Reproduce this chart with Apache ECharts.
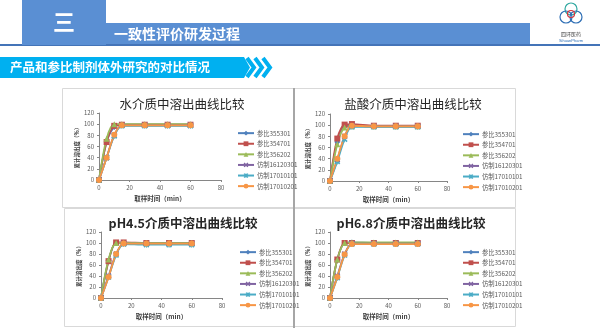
<!DOCTYPE html>
<html><head><meta charset="utf-8">
<script src="https://cdn.jsdelivr.net/npm/echarts@6/dist/echarts.min.js"></script>
<style>html,body{margin:0;padding:0;background:#fff}#c{width:600px;height:328px}</style>
</head><body><div id="c"></div>
<script>
var times = [0, 5, 10, 15, 30, 45, 60];
var seriesNames = ['参比355301', '参比354701', '参比356202', '仿制16120301', '仿制17010101', '仿制17010201'];
var chartTitles = ['水介质中溶出曲线比较', '盐酸介质中溶出曲线比较', 'pH4.5介质中溶出曲线比较', 'pH6.8介质中溶出曲线比较'];
var xTicks = [0, 20, 40, 60, 80];
var yTicks = [0, 20, 40, 60, 80, 100, 120];

// water
var water_355301 = [0, 68, 95, 99, 99, 99, 99];
var water_354701 = [0, 68, 97, 99, 99, 99, 99];
var water_356202 = [0, 74, 100, 100, 100, 100, 100];
var water_16120301 = [0, 40, 80, 98, 98, 98, 98];
var water_17010101 = [0, 40, 79, 97, 97, 97, 97];
var water_17010201 = [0, 40, 81, 98, 98, 98, 98];
// HCl
var hcl_355301 = [0, 70, 98, 99, 98, 98, 98];
var hcl_354701 = [0, 76, 101, 102, 99, 99, 99];
var hcl_356202 = [0, 66, 96, 98, 98, 98, 98];
var hcl_16120301 = [0, 38, 80, 99, 98, 98, 98];
var hcl_17010101 = [0, 35, 75, 97, 97, 97, 97];
var hcl_17010201 = [0, 40, 80, 99, 98, 98, 98];
// pH4.5
var ph45_355301 = [0, 68, 100, 100, 100, 100, 100];
var ph45_354701 = [0, 67, 101, 101, 100, 100, 100];
var ph45_356202 = [0, 70, 100, 100, 100, 100, 100];
var ph45_16120301 = [0, 40, 80, 99, 99, 99, 99];
var ph45_17010101 = [0, 38, 78, 98, 97, 97, 97];
var ph45_17010201 = [0, 38, 80, 99, 99, 99, 99];
// pH6.8
var ph68_355301 = [0, 70, 100, 101, 100, 100, 100];
var ph68_354701 = [0, 70, 100, 100, 100, 100, 100];
var ph68_356202 = [0, 70, 100, 101, 101, 101, 101];
var ph68_16120301 = [0, 40, 80, 99, 99, 99, 99];
var ph68_17010101 = [0, 37, 78, 98, 98, 98, 98];
var ph68_17010201 = [0, 38, 79, 98, 98, 98, 98];

var chartData = [
  [water_355301, water_354701, water_356202, water_16120301, water_17010101, water_17010201],
  [hcl_355301, hcl_354701, hcl_356202, hcl_16120301, hcl_17010101, hcl_17010201],
  [ph45_355301, ph45_354701, ph45_356202, ph45_16120301, ph45_17010101, ph45_17010201],
  [ph68_355301, ph68_354701, ph68_356202, ph68_16120301, ph68_17010101, ph68_17010201]
];

var colors = ['#4F81BD', '#C0504D', '#9BBB59', '#8064A2', '#4BACC6', '#F79646'];
var symbols = ['diamond', 'rect', 'triangle',
  'path://M0,2L2,0L5,3L8,0L10,2L7,5L10,8L8,10L5,7L2,10L0,8L3,5Z',
  'path://M0,2L2,0L5,3L8,0L10,2L7,5L10,8L8,10L5,7L2,10L0,8L3,5ZM4.3,0H5.7V10H4.3Z',
  'circle'];
var symbolSizes = [6, 6, 6, 6, 6, 6];

var grids = [
  {left: 99, top: 113, width: 122, height: 67},
  {left: 330, top: 114, width: 117, height: 67},
  {left: 101, top: 232, width: 121, height: 66},
  {left: 330, top: 232, width: 117, height: 66}
];
var legendPos = [
  {left: 232, top: 125}, {left: 457, top: 126}, {left: 234, top: 244}, {left: 457, top: 244}
];
var titlePos = [
  {x: 177, y: 93, w: 'normal'}, {x: 408, y: 93, w: 'normal'}, {x: 178, y: 212, w: 'bold'}, {x: 406, y: 212, w: 'bold'}
];

var option = {
  animation: false,
  textStyle: {fontFamily: '"Noto Sans CJK SC", "Noto Sans", sans-serif'},
  grid: [], xAxis: [], yAxis: [], legend: [], title: [], series: [],
  graphic: []
};

var g = option.graphic;
// header
g.push({type: 'rect', shape: {x: 0, y: 44, width: 600, height: 2}, style: {fill: '#4474B8'}});
g.push({type: 'rect', shape: {x: 22, y: 0, width: 84, height: 45}, style: {fill: '#5A8FD3'}});
g.push({type: 'rect', shape: {x: 106, y: 23, width: 424, height: 21}, style: {fill: '#5A8FD3'}});
g.push({type: 'text', x: 64, y: 22, style: {text: '三', fill: '#fff', font: 'bold 22px "Noto Sans CJK SC"', textAlign: 'center', textVerticalAlign: 'middle', shadowColor: 'rgba(0,0,0,0.4)', shadowOffsetX: 1, shadowOffsetY: 1, shadowBlur: 1}});
g.push({type: 'text', x: 114, y: 34, style: {text: '一致性评价研发过程', fill: '#fff', font: 'bold 14px "Noto Sans CJK SC"', textVerticalAlign: 'middle'}});
// logo
g.push({type: 'circle', shape: {cx: 571, cy: 9, r: 6}, style: {fill: 'none', stroke: '#2FA8A0', lineWidth: 1.2}});
g.push({type: 'circle', shape: {cx: 566, cy: 17, r: 6}, style: {fill: 'none', stroke: '#2F6FB5', lineWidth: 1.2}});
g.push({type: 'circle', shape: {cx: 576, cy: 17, r: 6}, style: {fill: 'none', stroke: '#2F6FB5', lineWidth: 1.2}});
g.push({type: 'circle', shape: {cx: 571, cy: 14, r: 3.5}, style: {fill: 'none', stroke: '#D9343A', lineWidth: 1.2}});
g.push({type: 'text', x: 571, y: 34, style: {text: '四环医药', fill: '#444', font: '5px "Noto Sans CJK SC"', textAlign: 'center', textVerticalAlign: 'middle'}});
g.push({type: 'text', x: 571, y: 41, style: {text: 'SihuanPharm', fill: '#2F6FB5', font: '4px sans-serif', textAlign: 'center', textVerticalAlign: 'middle'}});
// subtitle bar
g.push({type: 'polygon', shape: {points: [[0, 57], [244, 57], [250, 67.5], [244, 78], [0, 78]]}, style: {fill: '#00B0F0'}});
g.push({type: 'polyline', shape: {points: [[247, 58], [254, 67.5], [247, 77]]}, style: {stroke: '#00B0F0', lineWidth: 4, fill: 'none'}});
g.push({type: 'polyline', shape: {points: [[255, 58], [262, 67.5], [255, 77]]}, style: {stroke: '#00B0F0', lineWidth: 4, fill: 'none'}});
g.push({type: 'polyline', shape: {points: [[263, 58], [270, 67.5], [263, 77]]}, style: {stroke: '#00B0F0', lineWidth: 4, fill: 'none'}});
g.push({type: 'text', x: 10, y: 67.5, style: {text: '产品和参比制剂体外研究的对比情况', fill: '#fff', font: 'bold 12.5px "Noto Sans CJK SC"', textVerticalAlign: 'middle'}});
// panels
g.push({type: 'rect', shape: {x: 62.5, y: 88.5, width: 231, height: 119}, style: {fill: 'none', stroke: '#D9D9D9', lineWidth: 1}});
g.push({type: 'rect', shape: {x: 294.5, y: 88.5, width: 221, height: 119}, style: {fill: 'none', stroke: '#D9D9D9', lineWidth: 1}});
g.push({type: 'rect', shape: {x: 64.5, y: 208.5, width: 229, height: 118}, style: {fill: 'none', stroke: '#D9D9D9', lineWidth: 1}});
g.push({type: 'rect', shape: {x: 294.5, y: 208.5, width: 221, height: 118}, style: {fill: 'none', stroke: '#D9D9D9', lineWidth: 1}});
g.push({type: 'rect', shape: {x: 293, y: 88, width: 2, height: 240}, style: {fill: '#A6A6A6'}});

for (var c = 0; c < 4; c++) {
  option.grid.push(grids[c]);
  option.xAxis.push({
    type: 'value', gridIndex: c, min: xTicks[0], max: xTicks[xTicks.length - 1], interval: 20,
    axisLine: {lineStyle: {color: '#868686', width: 1}},
    axisTick: {show: true, length: 2, lineStyle: {color: '#868686'}},
    axisLabel: {fontSize: 6, color: '#595959', margin: 5},
    splitLine: {show: false},
    name: '取样时间（min）', nameLocation: 'middle', nameGap: 15,
    nameTextStyle: {fontSize: 6.5, fontWeight: 'bold', color: '#404040'}
  });
  option.yAxis.push({
    type: 'value', gridIndex: c, min: yTicks[0], max: yTicks[yTicks.length - 1], interval: 20,
    axisLine: {show: true, lineStyle: {color: '#868686', width: 1}},
    axisTick: {show: true, length: 2, lineStyle: {color: '#868686'}},
    axisLabel: {fontSize: 6, color: '#595959', margin: 5},
    splitLine: {show: false},
    name: '累计溶出度（%）', nameLocation: 'middle', nameGap: 19, nameRotate: 90,
    nameTextStyle: {fontSize: 5.5, fontWeight: 'bold', color: '#404040'}
  });
  option.legend.push({
    orient: 'vertical', left: legendPos[c].left, top: legendPos[c].top,
    itemWidth: 16, itemHeight: 6, itemGap: 4.3,
    textStyle: {fontSize: 6.3, color: '#595959', padding: [0, 0, 0, -2]},
    data: seriesNames, selectedMode: false
  });
  option.title.push({
    text: chartTitles[c], left: titlePos[c].x, top: titlePos[c].y, textAlign: 'center',
    textStyle: {fontSize: 12.5, fontWeight: titlePos[c].w, color: '#262626', fontFamily: '"Noto Sans CJK SC"'}
  });
  for (var s = 0; s < 6; s++) {
    var vals = chartData[c][s];
    var pts = [];
    for (var i = 0; i < times.length; i++) pts.push([times[i], vals[i]]);
    option.series.push({
      type: 'line', name: seriesNames[s], xAxisIndex: c, yAxisIndex: c,
      data: pts, smooth: 0.3, symbol: symbols[s], symbolSize: symbolSizes[s],
      lineStyle: {color: colors[s], width: 1.8},
      itemStyle: {color: colors[s]}
    });
  }
}

var chart = echarts.init(document.getElementById('c'), null, {renderer: 'canvas'});
chart.setOption(option);
</script>
</body></html>
